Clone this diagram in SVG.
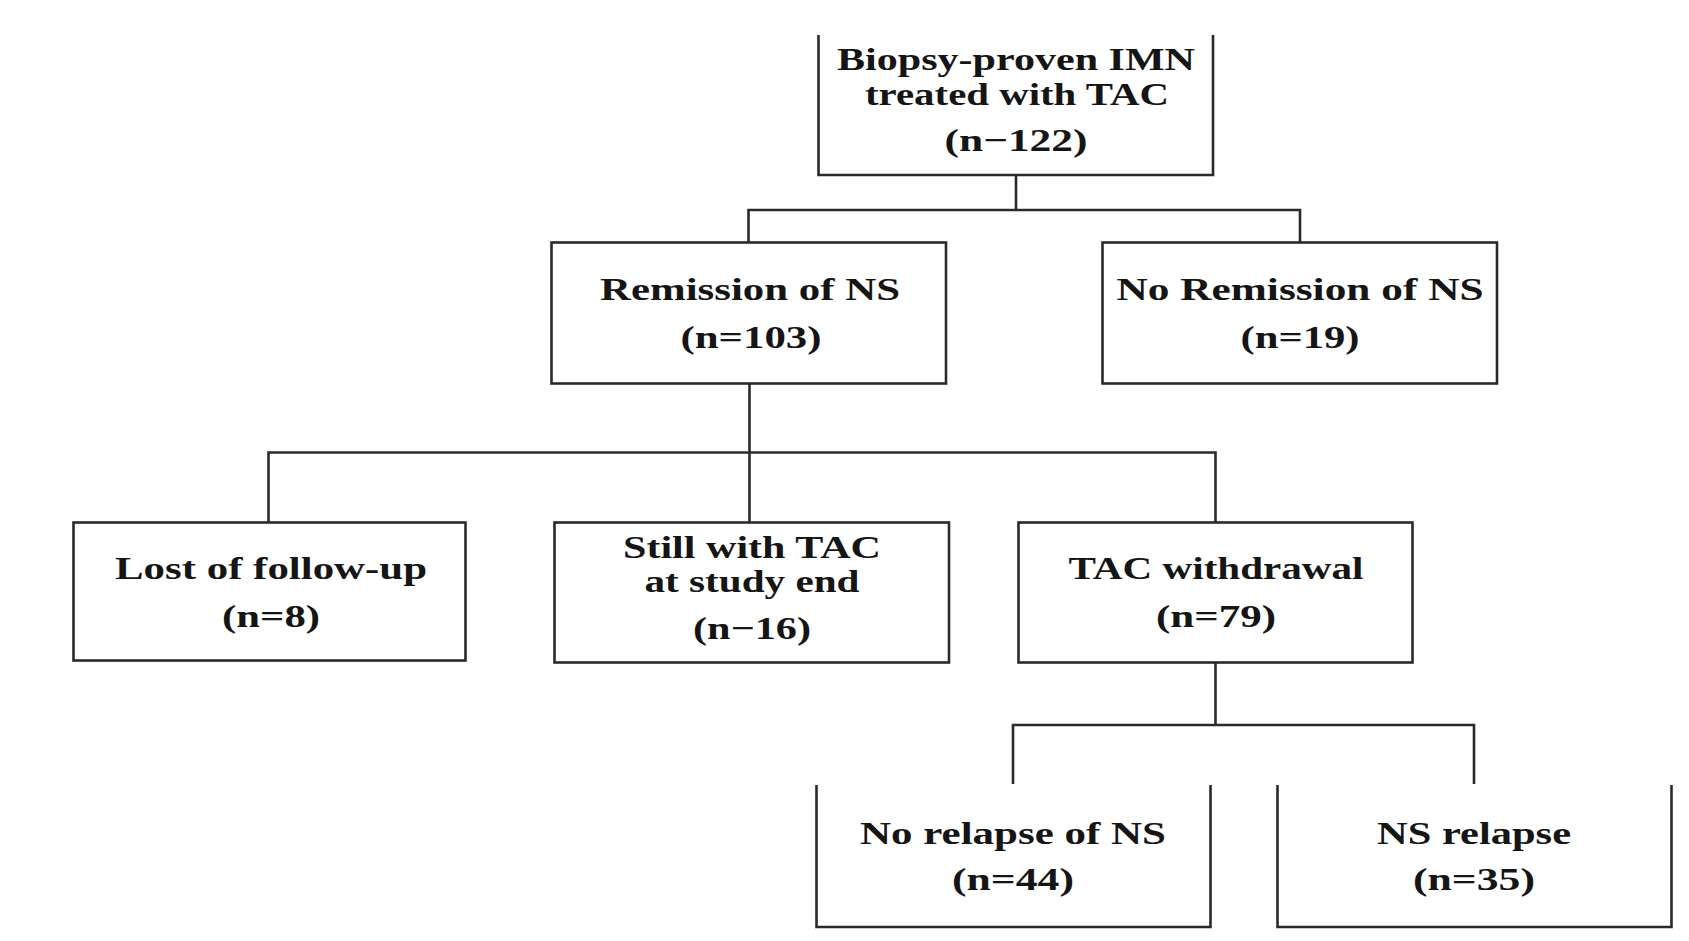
<svg xmlns="http://www.w3.org/2000/svg" width="1689" height="941" viewBox="0 0 1689 941">
<style>
.box{fill:#fff;stroke:#2a2a2a;stroke-width:2.6}
.open{fill:none;stroke:#2a2a2a;stroke-width:2.6}
.conn{fill:none;stroke:#2a2a2a;stroke-width:2.6}
text{font-family:"Liberation Serif","Times New Roman",serif;font-size:32px;font-weight:bold;fill:#151515;text-anchor:middle}
</style>
<rect width="1689" height="941" fill="#fff"/>
<g id="connectors">
<path class="conn" d="M1016,175 V210 M748.5,242.5 V210 H1300 V242.5"/>
<path class="conn" d="M749.5,383.5 V522.5 M268.5,522.5 V452.5 H1215.5 V522.5"/>
<path class="conn" d="M1215.5,662.5 V725 M1013,784 V725 H1474 V784"/>
</g>
<g id="n-top">
<path class="open" d="M818.5,35 V175 H1213 V35"/>
<text x="1016" y="70" textLength="358" lengthAdjust="spacingAndGlyphs">Biopsy-proven IMN</text>
<text x="1017" y="105" textLength="304" lengthAdjust="spacingAndGlyphs">treated with TAC</text>
<text x="1016" y="151" textLength="143" lengthAdjust="spacingAndGlyphs">(n−122)</text>
</g>
<g id="n-remission">
<rect class="box" x="551.5" y="242.5" width="394.5" height="141"/>
<text x="750" y="300" textLength="300" lengthAdjust="spacingAndGlyphs">Remission of NS</text>
<text x="751" y="348" textLength="141" lengthAdjust="spacingAndGlyphs">(n=103)</text>
</g>
<g id="n-noremission">
<rect class="box" x="1102.5" y="242.5" width="394.5" height="141"/>
<text x="1300" y="300" textLength="367" lengthAdjust="spacingAndGlyphs">No Remission of NS</text>
<text x="1300" y="348" textLength="119" lengthAdjust="spacingAndGlyphs">(n=19)</text>
</g>
<g id="n-lost">
<rect class="box" x="73.5" y="522.5" width="392" height="138"/>
<text x="271" y="579" textLength="312" lengthAdjust="spacingAndGlyphs">Lost of follow-up</text>
<text x="271" y="627" textLength="98" lengthAdjust="spacingAndGlyphs">(n=8)</text>
</g>
<g id="n-still">
<rect class="box" x="554.5" y="522.5" width="394.5" height="140"/>
<text x="752" y="558" textLength="258" lengthAdjust="spacingAndGlyphs">Still with TAC</text>
<text x="752" y="592" textLength="215" lengthAdjust="spacingAndGlyphs">at study end</text>
<text x="752" y="639" textLength="118" lengthAdjust="spacingAndGlyphs">(n−16)</text>
</g>
<g id="n-withdrawal">
<rect class="box" x="1018.5" y="522.5" width="394" height="140"/>
<text x="1216" y="579" textLength="295" lengthAdjust="spacingAndGlyphs">TAC withdrawal</text>
<text x="1216" y="627" textLength="120" lengthAdjust="spacingAndGlyphs">(n=79)</text>
</g>
<g id="n-norelapse">
<path class="open" d="M816.5,785 V927 H1210.5 V785"/>
<text x="1013" y="844" textLength="306" lengthAdjust="spacingAndGlyphs">No relapse of NS</text>
<text x="1013" y="890" textLength="122" lengthAdjust="spacingAndGlyphs">(n=44)</text>
</g>
<g id="n-relapse">
<path class="open" d="M1277.5,785 V927 H1671.5 V785"/>
<text x="1474" y="844" textLength="194" lengthAdjust="spacingAndGlyphs">NS relapse</text>
<text x="1474" y="890" textLength="122" lengthAdjust="spacingAndGlyphs">(n=35)</text>
</g>
</svg>
